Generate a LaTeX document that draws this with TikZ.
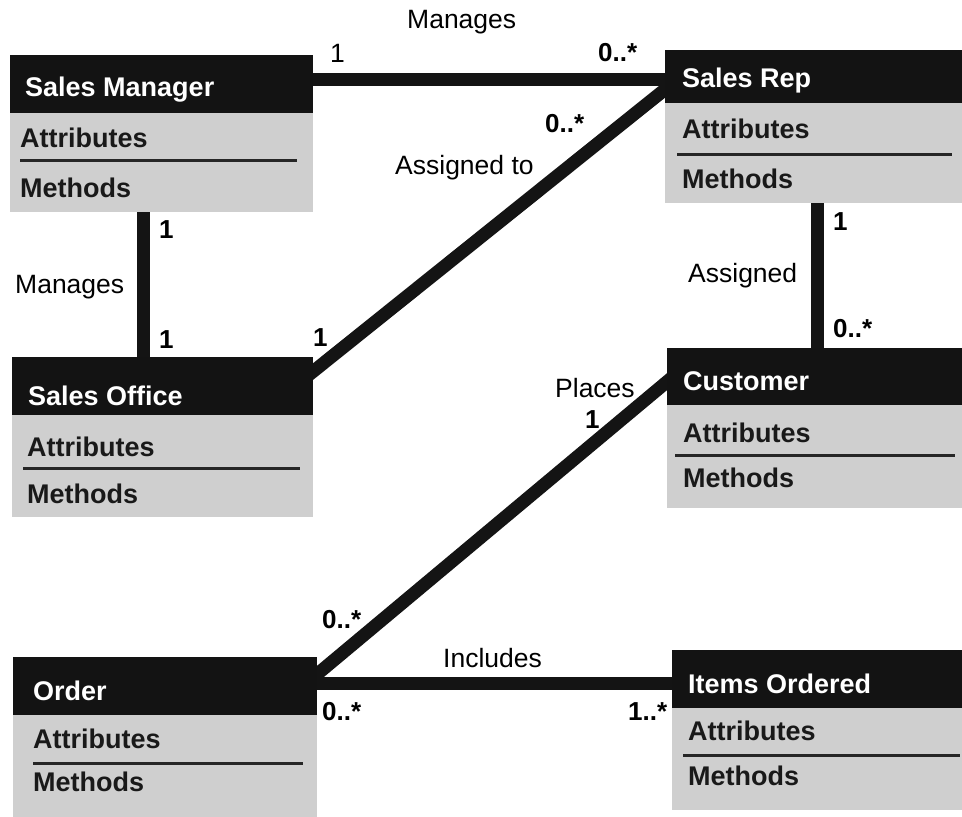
\documentclass[tikz,border=0pt]{standalone}
\usepackage{fontspec}
\setmainfont{Liberation Sans}
\usetikzlibrary{calc}
\pgfdeclarelayer{paper}
\pgfdeclarelayer{background}
\pgfsetlayers{paper,background,main}
\definecolor{boxgray}{HTML}{CFCFCF}
\definecolor{headblack}{HTML}{131313}
\tikzset{
  classbody/.style={draw=none, fill=boxgray, anchor=north west, inner sep=0pt, outer sep=0pt},
  classhead/.style={draw=none, fill=headblack, anchor=north west, inner sep=0pt, outer sep=0pt},
  titletext/.style={anchor=base west, inner sep=0pt, text=white, font=\fontsize{27}{30}\selectfont\bfseries},
  membertext/.style={anchor=base west, inner sep=0pt, text=black!90, font=\fontsize{27}{30}\selectfont\bfseries},
  sepline/.style={line width=3pt, black!85},
  assoc/.style={line width=13pt, black!92},
  lbl/.style={anchor=base west, inner sep=0pt, font=\fontsize{26.5}{30}\selectfont},
  mult/.style={anchor=base west, inner sep=0pt, font=\fontsize{26}{30}\selectfont\bfseries},
}
\begin{document}
\begin{tikzpicture}[x=1pt,y=-1pt]
\useasboundingbox (0,0) rectangle (962,817);
\begin{pgfonlayer}{paper}
\fill[white] (0,0) rectangle (962,817);
\end{pgfonlayer}

% Sales Manager
\node[classbody, minimum width=303pt, minimum height=157pt] (sm) at (10,55) {};
\node[classhead, minimum width=303pt, minimum height=58pt] (smh) at (10,55) {};
\node[titletext] (smt) at (25,96) {Sales Manager};
\node[membertext] (sma) at (20,147) {Attributes};
\draw[sepline] (20,160) -- (297,160);
\node[membertext] (smm) at (20,197) {Methods};

% Sales Rep
\node[classbody, minimum width=297pt, minimum height=153pt] (sr) at (665,50) {};
\node[classhead, minimum width=297pt, minimum height=53pt] (srh) at (665,50) {};
\node[titletext] (srt) at (682,87) {Sales Rep};
\node[membertext] (sra) at (682,138) {Attributes};
\draw[sepline] (677,154) -- (952,154);
\node[membertext] (srm) at (682,188) {Methods};

% Sales Office
\node[classbody, minimum width=301pt, minimum height=160pt] (so) at (12,357) {};
\node[classhead, minimum width=301pt, minimum height=58pt] (soh) at (12,357) {};
\node[titletext] (sot) at (28,405) {Sales Office};
\node[membertext] (soa) at (27,456) {Attributes};
\draw[sepline] (23,468) -- (300,468);
\node[membertext] (som) at (27,503) {Methods};

% Customer
\node[classbody, minimum width=295pt, minimum height=160pt] (cu) at (667,348) {};
\node[classhead, minimum width=295pt, minimum height=57pt] (cuh) at (667,348) {};
\node[titletext] (cut) at (683,390) {Customer};
\node[membertext] (cua) at (683,442) {Attributes};
\draw[sepline] (675,455) -- (955,455);
\node[membertext] (cum) at (683,487) {Methods};

% Order
\node[classbody, minimum width=304pt, minimum height=160pt] (or) at (13,657) {};
\node[classhead, minimum width=304pt, minimum height=58pt] (orh) at (13,657) {};
\node[titletext] (ort) at (33,700) {Order};
\node[membertext] (ora) at (33,748) {Attributes};
\draw[sepline] (33,763) -- (303,763);
\node[membertext] (orm) at (33,791) {Methods};

% Items Ordered
\node[classbody, minimum width=290pt, minimum height=160pt] (io) at (672,650) {};
\node[classhead, minimum width=290pt, minimum height=58pt] (ioh) at (672,650) {};
\node[titletext] (iot) at (688,693) {Items Ordered};
\node[membertext] (ioa) at (688,740) {Attributes};
\draw[sepline] (683,755) -- (960,755);
\node[membertext] (iom) at (688,785) {Methods};

% Connectors
\begin{pgfonlayer}{background}
\draw[assoc] ([yshift=-24.5pt,xshift=-8pt]sm.north east) -- ([yshift=-29.5pt,xshift=8pt]sr.north west);
\draw[assoc] ([yshift=-33pt,xshift=8pt]sr.north west) -- ([yshift=-21pt,xshift=-8pt]so.north east);
\draw[assoc] ([xshift=133pt,yshift=8pt]sm.south west) -- ([xshift=131pt,yshift=-8pt]so.north west);
\draw[assoc] ([xshift=152pt,yshift=8pt]sr.south west) -- ([xshift=150pt,yshift=-8pt]cu.north west);
\draw[assoc] ([yshift=-27pt,xshift=8pt]cu.north west) -- ([yshift=-24pt,xshift=-8pt]or.north east);
\draw[assoc] ([yshift=-26pt,xshift=-8pt]or.north east) -- ([yshift=-33pt,xshift=8pt]io.north west);
\end{pgfonlayer}

% Labels
\node[lbl] (l1) at (407,28) {Manages};
\node[lbl] (m1) at (330,62) {1};
\node[mult] (m2) at (598,61) {0..*};
\node[mult] (m3) at (545,132) {0..*};
\node[lbl] (l2) at (395,174) {Assigned to};
\node[mult] (m4) at (159,238) {1};
\node[lbl] (l3) at (15,293) {Manages};
\node[mult] (m5) at (159,348) {1};
\node[mult] (m6) at (313,346) {1};
\node[mult] (m7) at (833,230) {1};
\node[lbl] (l4) at (688,282) {Assigned};
\node[mult] (m8) at (833,337) {0..*};
\node[lbl] (l5) at (555,397) {Places};
\node[mult] (m9) at (585,428) {1};
\node[mult] (m10) at (322,628) {0..*};
\node[lbl] (l6) at (443,667) {Includes};
\node[mult] (m11) at (322,720) {0..*};
\node[mult] (m12) at (628,720) {1..*};
\end{tikzpicture}
\end{document}
